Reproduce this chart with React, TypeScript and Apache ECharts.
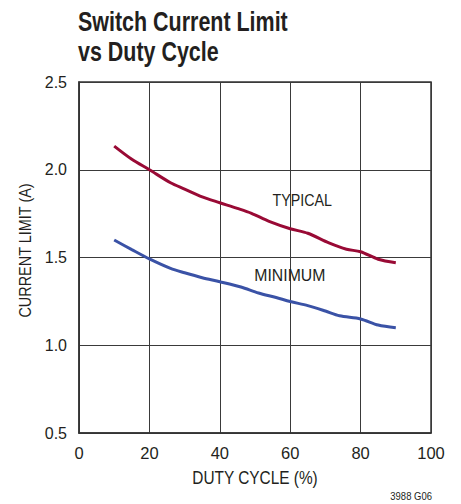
import React, { useEffect, useRef } from "react";
import * as echarts from "echarts";

const typicalX = [10, 15, 20, 26, 30, 35, 40, 45, 49, 54, 60, 65, 71, 76, 80, 85, 90];
const typicalY = [2.135, 2.06, 2.0, 1.926, 1.89, 1.845, 1.812, 1.78, 1.752, 1.706, 1.664, 1.638, 1.583, 1.547, 1.533, 1.49, 1.47];

const minimumX = [10, 15, 20, 26, 30, 35, 40, 46, 51, 56, 60, 65, 70, 74, 80, 85, 90];
const minimumY = [1.6, 1.545, 1.492, 1.438, 1.413, 1.385, 1.362, 1.332, 1.298, 1.272, 1.249, 1.226, 1.195, 1.168, 1.15, 1.115, 1.1];

const xTicks = { min: 0, max: 100, interval: 20 };
const yTicks = { min: 0.5, max: 2.5, interval: 0.5 };

const seriesLabels = [
  { text: "TYPICAL", at: [63.4, 1.825] },
  { text: "MINIMUM", at: [59.9, 1.4] },
];

const FONT = "'Liberation Sans', Arial, Helvetica, sans-serif";
const INK = "#231f20";

export default function App() {
  const ref = useRef<HTMLDivElement>(null);
  useEffect(() => {
    if (!ref.current) return;
    const chart = echarts.init(ref.current, null, { renderer: "svg" });
    chart.setOption({
      animation: false,
      backgroundColor: "#ffffff",
      grid: {
        left: 79,
        right: 30,
        top: 82,
        bottom: 71,
        show: true,
        borderColor: "#333",
        borderWidth: 1.5,
        backgroundColor: "transparent",
      },
      xAxis: {
        type: "value",
        min: xTicks.min,
        max: xTicks.max,
        interval: xTicks.interval,
        axisLine: { show: true, lineStyle: { color: "#333", width: 1.5 } },
        axisTick: { show: false },
        splitLine: { show: true, lineStyle: { color: "#3a3a3a", width: 1 } },
        axisLabel: { fontFamily: FONT, fontSize: 16.5, color: INK, margin: 11 },
      },
      yAxis: {
        type: "value",
        min: yTicks.min,
        max: yTicks.max,
        interval: yTicks.interval,
        axisLine: { show: true, lineStyle: { color: "#333", width: 1.5 } },
        axisTick: { show: false },
        splitLine: { show: true, lineStyle: { color: "#3a3a3a", width: 1 } },
        axisLabel: {
          fontFamily: FONT,
          fontSize: 16,
          color: INK,
          margin: 12,
          formatter: (v: number) => v.toFixed(1),
        },
      },
      series: [
        {
          type: "line",
          name: "TYPICAL",
          data: typicalX.map((x, i) => [x, typicalY[i]]),
          smooth: 0.3,
          showSymbol: false,
          lineStyle: { color: "#990a35", width: 3 },
        },
        {
          type: "line",
          name: "MINIMUM",
          data: minimumX.map((x, i) => [x, minimumY[i]]),
          smooth: 0.3,
          showSymbol: false,
          lineStyle: { color: "#3a52a6", width: 3 },
        },
      ],
    });

    const labelGraphics = seriesLabels.map((l) => {
      const p = chart.convertToPixel({ gridIndex: 0 }, l.at) as number[];
      return {
        type: "text",
        x: p[0],
        y: p[1],
        scaleX: l.text === "TYPICAL" ? 0.84 : 0.93,
        style: {
          text: l.text,
          fontFamily: FONT,
          fontSize: 17,
          fill: INK,
          align: "center",
          verticalAlign: "middle",
        },
      };
    });

    chart.setOption({
      graphic: [
        {
          type: "text",
          x: 78,
          y: 22,
          scaleX: 0.795,
          style: {
            text: "Switch Current Limit",
            fontFamily: FONT,
            fontWeight: "bold",
            fontSize: 27,
            fill: INK,
            align: "left",
            verticalAlign: "middle",
          },
        },
        {
          type: "text",
          x: 78,
          y: 51.5,
          scaleX: 0.795,
          style: {
            text: "vs Duty Cycle",
            fontFamily: FONT,
            fontWeight: "bold",
            fontSize: 27,
            fill: INK,
            align: "left",
            verticalAlign: "middle",
          },
        },
        {
          type: "text",
          x: 255,
          y: 478,
          scaleX: 0.88,
          style: {
            text: "DUTY CYCLE (%)",
            fontFamily: FONT,
            fontSize: 17.5,
            fill: INK,
            align: "center",
            verticalAlign: "middle",
          },
        },
        {
          type: "text",
          x: 25,
          y: 250.5,
          rotation: Math.PI / 2,
          scaleX: 0.85,
          style: {
            text: "CURRENT LIMIT (A)",
            fontFamily: FONT,
            fontSize: 17,
            fill: INK,
            align: "center",
            verticalAlign: "middle",
          },
        },
        {
          type: "text",
          x: 432,
          y: 496.5,
          scaleX: 0.95,
          style: {
            text: "3988 G06",
            fontFamily: FONT,
            fontSize: 10,
            fill: INK,
            align: "right",
            verticalAlign: "middle",
          },
        },
        ...labelGraphics,
      ],
    });
    return () => chart.dispose();
  }, []);
  return <div ref={ref} style={{ width: 461, height: 504, position: "absolute", left: 0, top: 0 }} />;
}
